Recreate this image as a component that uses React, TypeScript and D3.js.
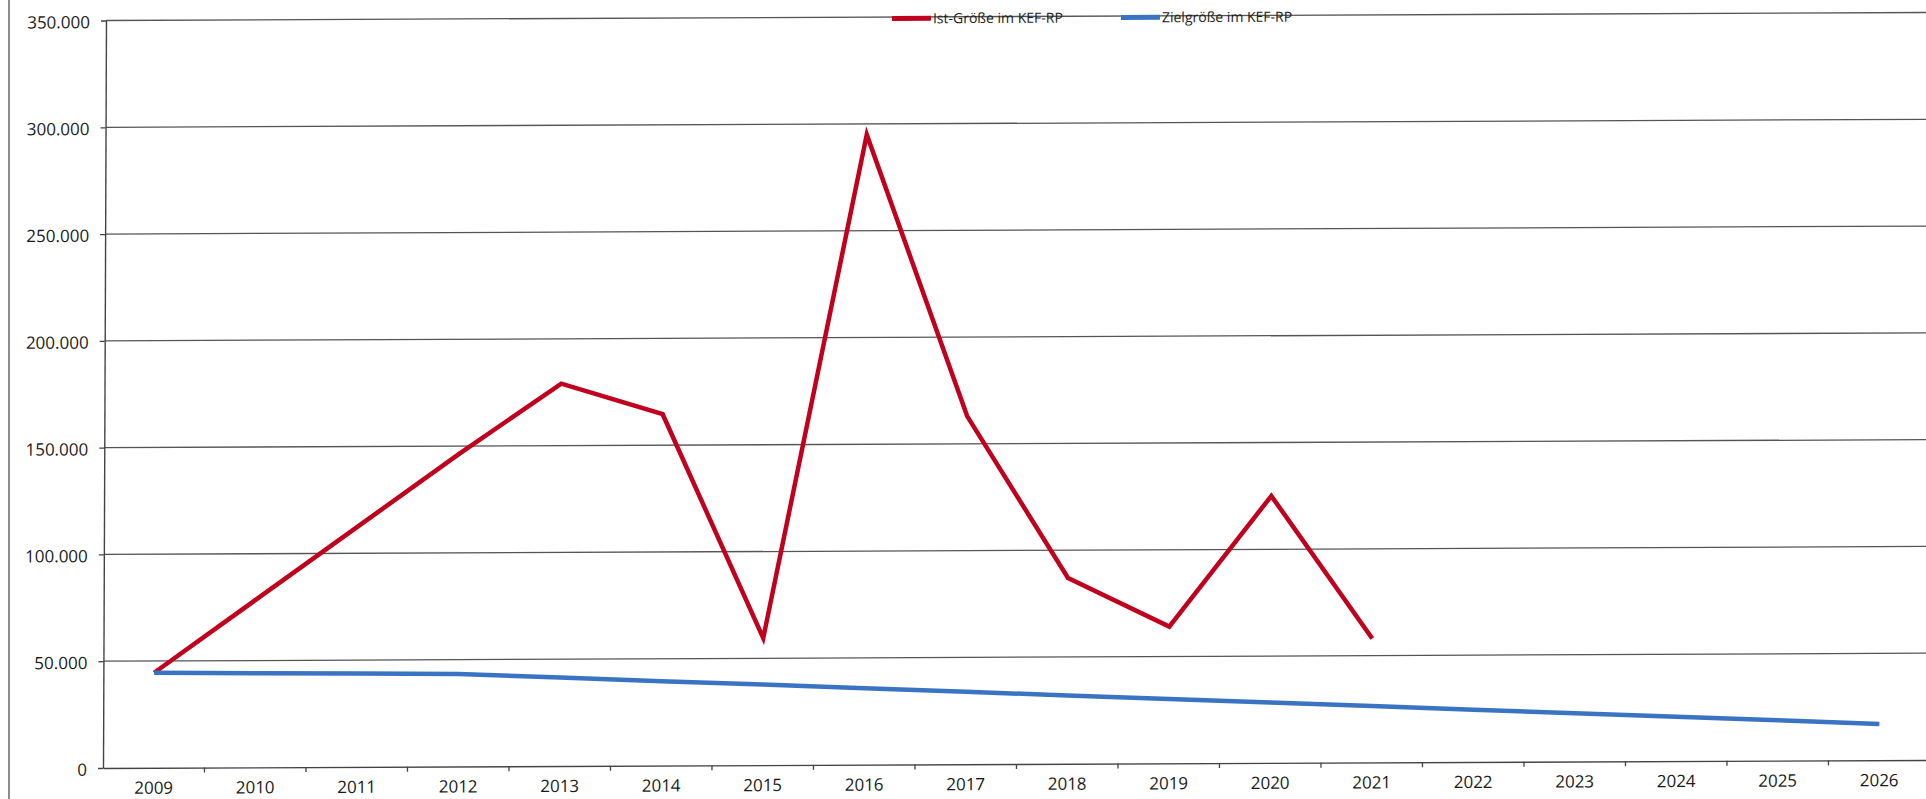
import React, { useEffect, useRef } from 'react';
import * as d3 from 'd3';

// years on the x axis
const years = [
  '2009', '2010', '2011', '2012', '2013', '2014', '2015', '2016', '2017',
  '2018', '2019', '2020', '2021', '2022', '2023', '2024', '2025', '2026',
];

// Ist-Größe (actual), only until 2021
const istValues = [
  44500, 78500, 112500, 146500, 179000, 164500, 59500, 295000, 163000,
  87000, 64000, 125000, 58000,
];

// Zielgröße (target), whole period
const zielValues = [
  44500, 44100, 43700, 43300, 41400, 39500, 37700, 35800, 33900,
  32000, 30100, 28300, 26400, 24500, 22600, 20700, 18900, 17000,
];

const yTicks = [0, 50000, 100000, 150000, 200000, 250000, 300000, 350000];

const seriesNames = ['Ist-Größe im KEF-RP', 'Zielgröße im KEF-RP'];
const seriesColors = ['#c0001c', '#3a73c2'];

const W = 1926;
const H = 799;

export default function App() {
  const ref = useRef<SVGSVGElement>(null);

  useEffect(() => {
    const svg = d3.select(ref.current);
    svg.selectAll('*').remove();

    const left = 103;
    const band = 101.5;

    const x = d3
      .scaleBand()
      .domain(years)
      .range([left, left + band * years.length])
      .padding(0);

    const y = d3.scaleLinear().domain([0, 350000]).range([768, 20.5]);

    const cx = (yr: string) => (x(yr) as number) + x.bandwidth() / 2;

    // left edge of the scanned page
    svg
      .append('line')
      .attr('x1', 9)
      .attr('x2', 9)
      .attr('y1', 0)
      .attr('y2', H)
      .attr('stroke', '#666')
      .attr('stroke-width', 1.5);

    // scanned page is slightly skewed
    const g = svg
      .append('g')
      .attr('transform', `matrix(1,-0.0044,-0.004,1,${0.004 * 768},${0.0044 * left})`);

    // gridlines
    g.append('g')
      .selectAll('line')
      .data(yTicks.slice(1))
      .enter()
      .append('line')
      .attr('x1', left)
      .attr('x2', W + 20)
      .attr('y1', (d) => y(d))
      .attr('y2', (d) => y(d))
      .attr('stroke', '#555')
      .attr('stroke-width', 1.3);

    // y axis
    const yAxis = d3
      .axisLeft(y)
      .tickValues(yTicks)
      .tickSize(5)
      .tickSizeOuter(0)
      .tickPadding(11)
      .tickFormat((d: any) => (d === 0 ? '0' : d3.format(',')(d).replace(/,/g, '.')));

    const ya = g.append('g').attr('transform', `translate(${left},0)`).call(yAxis);
    ya.select('.domain').attr('stroke', '#444').attr('stroke-width', 1.4);
    ya.selectAll('.tick line').attr('stroke', '#444').attr('stroke-width', 1.3);
    ya.selectAll('.tick text')
      .attr('font-family', '"Open Sans", sans-serif')
      .attr('font-size', 17)
      .attr('fill', '#1a1a1a')
      .attr('dy', '0.42em');

    // x axis
    const xAxis = d3.axisBottom(x).tickSize(0).tickSizeOuter(0).tickPadding(0);
    const xa = g.append('g').attr('transform', `translate(0,${y(0)})`).call(xAxis);
    xa.select('.domain').attr('stroke', '#444').attr('stroke-width', 1.4);
    xa.selectAll('.tick text')
      .attr('font-family', '"Open Sans", sans-serif')
      .attr('font-size', 17)
      .attr('fill', '#1a1a1a')
      .attr('y', 26)
      .attr('dy', 0);

    // tick marks sit on the category borders
    g.append('g')
      .selectAll('line')
      .data(years.slice(1))
      .enter()
      .append('line')
      .attr('x1', (d) => x(d) as number)
      .attr('x2', (d) => x(d) as number)
      .attr('y1', y(0))
      .attr('y2', y(0) + 5)
      .attr('stroke', '#444')
      .attr('stroke-width', 1.3);

    const line = d3
      .line<number>()
      .x((_, i) => cx(years[i]))
      .y((d) => y(d));

    [istValues, zielValues].forEach((vals, i) => {
      g.append('path')
        .datum(vals)
        .attr('d', line)
        .attr('fill', 'none')
        .attr('stroke', seriesColors[i])
        .attr('stroke-width', 4.5)
        .attr('stroke-linejoin', 'miter')
        .attr('stroke-linecap', 'butt');
    });

    // legend on top
    const legendX = [889, 1118];
    const legend = g
      .append('g')
      .selectAll('g')
      .data(seriesNames)
      .enter()
      .append('g')
      .attr('transform', (_, i) => `translate(${legendX[i]},22)`);

    legend
      .append('line')
      .attr('x1', 0)
      .attr('x2', 39)
      .attr('stroke', (_, i) => seriesColors[i])
      .attr('stroke-width', 5);

    legend
      .append('text')
      .attr('x', 41)
      .attr('dy', '0.35em')
      .attr('font-family', '"Open Sans", sans-serif')
      .attr('font-size', 14)
      .attr('fill', '#1a1a1a')
      .text((d) => d);
  }, []);

  return (
    <svg
      ref={ref}
      width={W}
      height={H}
      style={{ position: 'absolute', left: 0, top: 0, background: '#fff' }}
    />
  );
}
